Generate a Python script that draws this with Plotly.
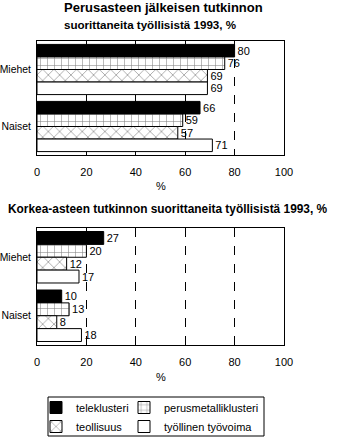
import plotly.graph_objects as go

# ---- data ----
groups = ["Miehet", "Naiset"]
series_names = ["teleklusteri", "perusmetalliklusteri", "teollisuus", "työllinen työvoima"]
top_tele = [80, 66]
top_perus = [76, 59]
top_teoll = [69, 57]
top_tyov = [69, 71]
bot_tele = [27, 10]
bot_perus = [20, 13]
bot_teoll = [12, 8]
bot_tyov = [17, 18]
x_ticks = [0, 20, 40, 60, 80, 100]

title1a = "Perusasteen jälkeisen tutkinnon"
title1b = "suorittaneita työllisistä 1993, %"
title2 = "Korkea-asteen tutkinnon suorittaneita työllisistä 1993, %"

# ---- layout geometry (pixels) ----
W, H = 355, 441
L, R = 37, 71
PW = W - L - R
FONT = "Liberation Sans, Arial, sans-serif"


def px_x(p):
    return (p - L) / PW


def px_y(p):
    return 1 - p / H


styles = [
    dict(color="black", pattern=dict(shape="")),
    dict(color="white", pattern=dict(shape="+", fgcolor="black", bgcolor="white", size=7, solidity=0.15)),
    dict(color="white", pattern=dict(shape="x", fgcolor="black", bgcolor="white", size=8, solidity=0.15)),
    dict(color="white", pattern=dict(shape="")),
]
legend_ids = ["legend", "legend2", "legend", "legend2"]

fig = go.Figure()
top_data = [top_tele, top_perus, top_teoll, top_tyov]
bot_data = [bot_tele, bot_perus, bot_teoll, bot_tyov]

for panel, (data, xa, ya, show) in enumerate([(top_data, "x", "y", True), (bot_data, "x2", "y2", False)]):
    for i, (name, vals) in enumerate(zip(series_names, data)):
        st = styles[i]
        fig.add_trace(go.Bar(
            y=groups, x=vals, orientation="h", name=name, legendgroup=name,
            legend=legend_ids[i],
            marker=dict(color=st["color"], pattern=st["pattern"], line=dict(color="black", width=1)),
            text=[str(v) for v in vals], textposition="outside", cliponaxis=False,
            constraintext="none", textfont=dict(size=11, color="black", family=FONT),
            xaxis=xa, yaxis=ya, showlegend=show, hoverinfo="skip",
        ))

xaxis_common = dict(
    range=[0, 100], tickvals=x_ticks, ticktext=[str(t) for t in x_ticks],
    showgrid=True, gridcolor="black", griddash="dash", gridwidth=1,
    zeroline=False, showline=True, linecolor="black", linewidth=1, mirror=True,
    ticks="", ticklabelstandoff=7, automargin=False,
    tickfont=dict(size=11, color="black", family=FONT), fixedrange=True,
)
yaxis_common = dict(
    autorange="reversed", showgrid=False, zeroline=False,
    showline=True, linecolor="black", linewidth=1, mirror=True,
    ticks="", ticklabelstandoff=3, automargin=False,
    tickfont=dict(size=10.4, color="black", family=FONT), fixedrange=True,
)

legend_common = dict(
    orientation="v", yanchor="top", xanchor="left",
    bgcolor="rgba(0,0,0,0)", borderwidth=0,
    font=dict(size=11, color="black", family=FONT),
    itemwidth=30, tracegroupgap=0,
)

fig.update_layout(
    width=W, height=H,
    margin=dict(l=L, r=R, t=0, b=0, pad=0, autoexpand=False),
    paper_bgcolor="white", plot_bgcolor="white",
    font=dict(family=FONT, color="black", size=11),
    barmode="group", bargap=0.12, bargroupgap=0,
    xaxis=dict(domain=[0, 1], anchor="y", **xaxis_common),
    yaxis=dict(domain=[px_y(155), px_y(41)], anchor="x", **yaxis_common),
    xaxis2=dict(domain=[0, 1], anchor="y2", **xaxis_common),
    yaxis2=dict(domain=[px_y(345), px_y(228)], anchor="x2", **yaxis_common),
    legend=dict(x=px_x(36), y=px_y(393), **legend_common),
    legend2=dict(x=px_x(124), y=px_y(393), **legend_common),
    shapes=[
        dict(type="rect", xref="paper", yref="paper",
             x0=px_x(48), x1=px_x(264), y0=px_y(436), y1=px_y(397),
             line=dict(color="black", width=1), fillcolor="rgba(0,0,0,0)", layer="below"),
    ],
    annotations=[
        dict(text="<b>" + title1a + "</b>", x=px_x(62), y=px_y(8), xref="paper", yref="paper",
             xanchor="left", yanchor="middle", showarrow=False, font=dict(size=13, family=FONT)),
        dict(text="<b>" + title1b + "</b>", x=px_x(62), y=px_y(25), xref="paper", yref="paper",
             xanchor="left", yanchor="middle", showarrow=False, font=dict(size=11.6, family=FONT)),
        dict(text="<b>" + title2 + "</b>", x=px_x(6), y=px_y(209), xref="paper", yref="paper",
             xanchor="left", yanchor="middle", showarrow=False, font=dict(size=11.9, family=FONT)),
        dict(text="%", x=px_x(160.5), y=px_y(186), xref="paper", yref="paper",
             xanchor="center", yanchor="middle", showarrow=False, font=dict(size=11, family=FONT)),
        dict(text="%", x=px_x(160.5), y=px_y(377), xref="paper", yref="paper",
             xanchor="center", yanchor="middle", showarrow=False, font=dict(size=11, family=FONT)),
    ],
)

fig.write_html("out.html", config=dict(displayModeBar=False))
